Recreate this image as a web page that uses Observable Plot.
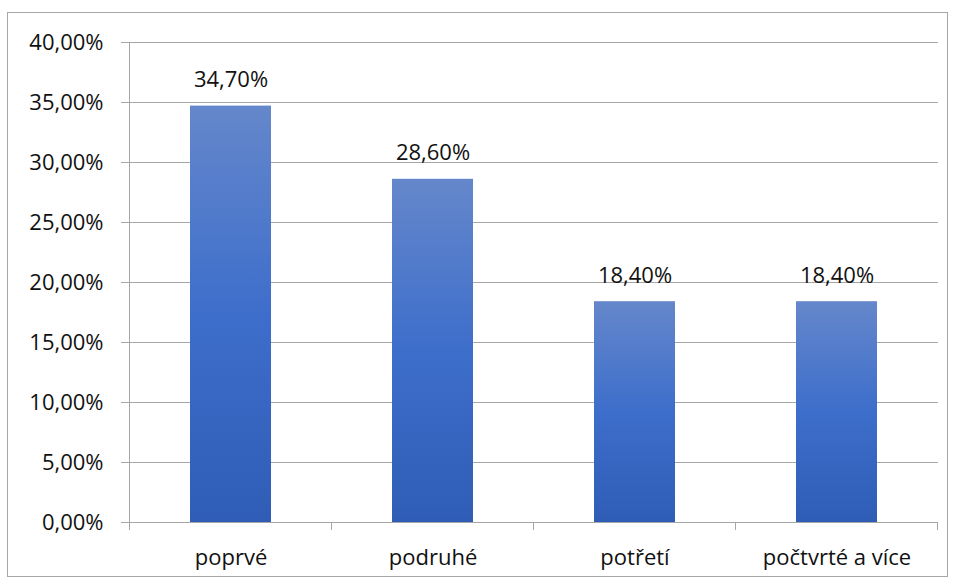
<!DOCTYPE html>
<html>
<head>
<meta charset="utf-8">
<script src="https://cdn.jsdelivr.net/npm/d3@7"></script>
<script src="https://cdn.jsdelivr.net/npm/@observablehq/plot@0.6"></script>
<style>
  html, body { margin: 0; padding: 0; background: #fff; }
  #wrap { position: relative; width: 954px; height: 581px; }
  #frame { position: absolute; left: 7px; top: 12px; width: 941px; height: 565px; border: 1px solid #a6a6a6; box-sizing: border-box; pointer-events: none; }
</style>
</head>
<body>
<div id="wrap"><div id="frame"></div></div>
<script>
const categories = ["poprvé", "podruhé", "potřetí", "počtvrté a více"];
const values = [0.347, 0.286, 0.184, 0.184];
const yTicks = [0, 0.05, 0.10, 0.15, 0.20, 0.25, 0.30, 0.35, 0.40];

const data = categories.map((c, i) => ({category: c, value: values[i]}));
const fmt = v => d3.format(".2%")(v).replace(".", ",");

const gridColor = "#a6a6a6";
const textColor = "#111";

// category-boundary tick marks below the x axis, plus the vertical y axis line
const axisDecor = (index, scales, values, dims) => {
  const x = scales.x;
  const bw = x.bandwidth();
  const step = bw / 0.4;
  const y0 = scales.y(0);
  const yTop = scales.y(yTicks[yTicks.length - 1]);
  const g = d3.create("svg:g").attr("stroke", gridColor).attr("stroke-width", 1).attr("shape-rendering", "crispEdges");
  const xs = categories.map(c => x(c) + bw / 2 - step / 2);
  xs.push(x(categories[categories.length - 1]) + bw / 2 + step / 2);
  for (const px of xs) {
    g.append("line").attr("x1", px).attr("x2", px).attr("y1", y0).attr("y2", y0 + 8);
  }
  g.append("line").attr("x1", xs[0]).attr("x2", xs[0]).attr("y1", yTop).attr("y2", y0);
  return g.node();
};

const chart = Plot.plot({
  width: 954,
  height: 581,
  marginLeft: 129,
  marginRight: 16,
  marginTop: 42,
  marginBottom: 59,
  style: {fontFamily: "'Open Sans', 'Liberation Sans', sans-serif", fontSize: "22px", color: textColor, background: "transparent"},
  x: {domain: categories, paddingInner: 0.6, paddingOuter: 0.3},
  y: {domain: [0, 0.4]},
  marks: [
    Plot.gridY(yTicks, {stroke: gridColor, strokeOpacity: 1}),
    Plot.axisY(yTicks, {tickFormat: fmt, tickSize: 8, tickPadding: 18, stroke: gridColor, label: null, fill: textColor}),
    Plot.axisX({tickSize: 0, tickPadding: 27, label: null, fill: textColor}),
    Plot.barY(data, {x: "category", y: "value", fill: "url(#barGrad)", style: "filter:url(#barShadow)"}),
    Plot.ruleY([0], {stroke: gridColor}),
    Plot.ruleY([0], {render: axisDecor}),
    Plot.text(data, {x: "category", y: "value", text: d => fmt(d.value), lineAnchor: "bottom", dy: -19, fill: textColor})
  ]
});

// Gradient & shadow defs
const svg = d3.select(chart);
const defs = svg.insert("defs", ":first-child");
const grad = defs.append("linearGradient").attr("id", "barGrad").attr("x1", 0).attr("y1", 0).attr("x2", 0).attr("y2", 1);
grad.append("stop").attr("offset", "0%").attr("stop-color", "#6587cb");
grad.append("stop").attr("offset", "50%").attr("stop-color", "#3d6ecb");
grad.append("stop").attr("offset", "100%").attr("stop-color", "#2f5db6");
const f = defs.append("filter").attr("id", "barShadow").attr("x", "-20%").attr("y", "-20%").attr("width", "140%").attr("height", "140%");
f.append("feDropShadow").attr("dx", 0).attr("dy", 1).attr("stdDeviation", 2.5).attr("flood-color", "#000").attr("flood-opacity", 0.35);

document.getElementById("wrap").prepend(chart);
</script>
</body>
</html>
